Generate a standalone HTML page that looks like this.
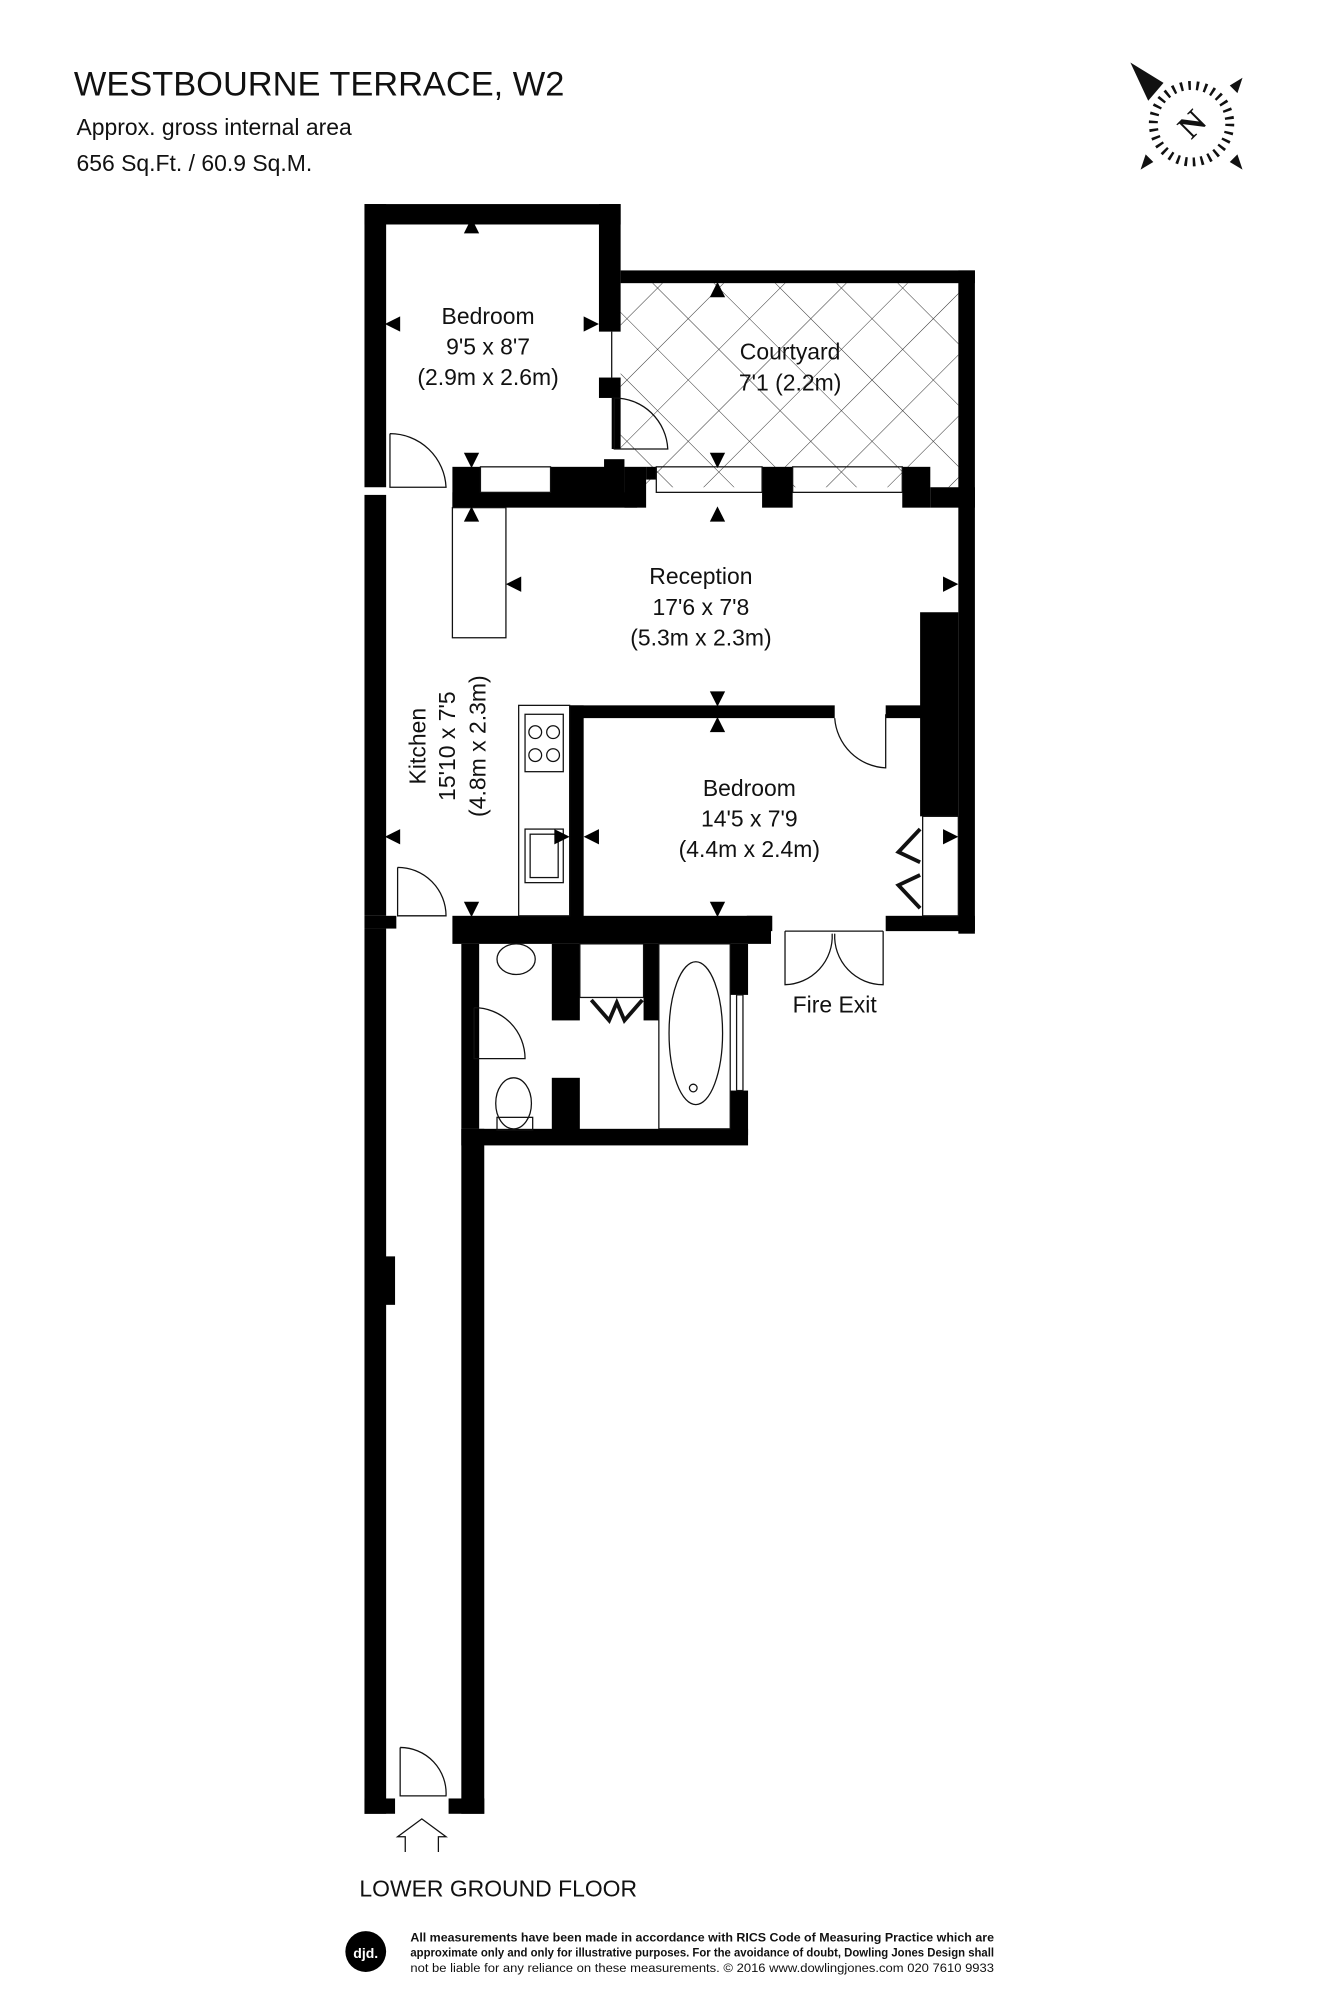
<!DOCTYPE html>
<html><head><meta charset="utf-8"><style>
html,body{margin:0;padding:0;background:#fff;}
svg{display:block;}
text{font-family:"Liberation Sans",sans-serif;fill:#111;}
</style></head><body>
<svg width="1333" height="2000" viewBox="0 0 1046 1568" preserveAspectRatio="none" xmlns="http://www.w3.org/2000/svg">
<defs>
<pattern id="hatch" width="34" height="34" patternUnits="userSpaceOnUse" patternTransform="rotate(45 487 222)">
<path d="M0 0H34M0 0V34" stroke="#333" stroke-width="0.8" fill="none"/>
</pattern>
</defs>
<rect width="1046" height="1568" fill="#fff"/>
<!-- Header -->
<text x="58" y="75" font-size="27">WESTBOURNE TERRACE, W2</text>
<text x="60" y="106" font-size="18">Approx. gross internal area</text>
<text x="60" y="134" font-size="18">656 Sq.Ft. / 60.9 Sq.M.</text>
<!-- Compass -->
<g transform="translate(935,97)">
<circle r="30" fill="none" stroke="#111" stroke-width="7" stroke-dasharray="2 4.3"/>
<polygon points="-48,-48 -22,-32 -34,-18" fill="#111"/>
<polygon points="40,-36 30,-30 36,-24" fill="#111"/>
<polygon points="-40,36 -30,30 -36,24" fill="#111"/>
<polygon points="40,36 30,30 36,24" fill="#111"/>
<text x="0" y="9" font-size="26" font-weight="bold" text-anchor="middle" transform="rotate(-45)" style="font-family:'Liberation Serif',serif">N</text>
</g>
<!-- Courtyard hatch -->
<rect x="487" y="222" width="265" height="160" fill="url(#hatch)"/>
<g fill="#000">
<!-- outer left wall -->
<rect x="286" y="160" width="17" height="222"/>
<rect x="286" y="388" width="17" height="330"/>
<rect x="286" y="728" width="17" height="694"/>
<rect x="298" y="985" width="12" height="38"/>
<!-- bedroom1 -->
<rect x="286" y="160" width="201" height="16"/>
<rect x="470" y="160" width="17" height="100"/>
<rect x="470" y="296" width="17" height="16"/>
<rect x="480" y="312" width="7" height="40"/>
<!-- wall between bedroom1/reception -->
<rect x="355" y="366" width="22" height="32"/>
<rect x="355" y="386" width="145" height="12"/>
<rect x="432" y="366" width="50" height="22"/>
<rect x="474" y="360" width="16" height="28"/>
<rect x="490" y="366" width="17" height="32"/>
<rect x="507" y="366" width="8" height="10"/>
<rect x="598" y="366" width="24" height="32"/>
<rect x="708" y="366" width="22" height="32"/>
<!-- courtyard walls -->
<rect x="487" y="212" width="278" height="10"/>
<rect x="752" y="212" width="13" height="520"/>
<rect x="722" y="480" width="30" height="160"/>
<rect x="730" y="382" width="35" height="16"/>
<!-- bedroom2 -->
<rect x="447" y="553" width="208" height="10"/>
<rect x="695" y="553" width="30" height="10"/>
<rect x="447" y="553" width="11" height="167"/>
<rect x="586" y="718" width="20" height="12"/>
<rect x="695" y="718" width="70" height="12"/>
<!-- horizontal wall below kitchen -->
<rect x="355" y="718" width="250" height="22"/>
<rect x="286" y="718" width="25" height="10"/>
<!-- bathroom -->
<rect x="362" y="740" width="14" height="145"/>
<rect x="362" y="885" width="18" height="537"/>
<rect x="362" y="885" width="225" height="13"/>
<rect x="573" y="740" width="14" height="40"/>
<rect x="573" y="855" width="14" height="35"/>
<rect x="433" y="740" width="22" height="60"/>
<rect x="433" y="845" width="22" height="42"/>
<rect x="505" y="740" width="12" height="60"/>
<!-- entrance bottom -->
<rect x="286" y="1410" width="24" height="12"/>
<rect x="352" y="1410" width="28" height="12"/>
</g>
<!-- thin details -->
<g fill="none" stroke="#111" stroke-width="1">
<line x1="480" y1="260" x2="480" y2="296"/>
<rect x="377" y="366" width="55" height="20"/>
<rect x="515" y="366" width="83" height="20"/>
<rect x="622" y="366" width="86" height="20"/>
<rect x="355" y="398" width="42" height="102"/>
<rect x="407" y="553" width="40" height="165"/>
<rect x="412" y="560" width="30" height="45"/>
<circle cx="420" cy="574" r="5"/><circle cx="434" cy="574" r="5"/>
<circle cx="420" cy="592" r="5"/><circle cx="434" cy="592" r="5"/>
<rect x="412" y="650" width="30" height="42"/>
<rect x="416" y="654" width="22" height="34"/>
<path d="M306 340 V382 H350 A44 44 0 0 0 306 340"/>
<path d="M482 312 V352 H524 A42 42 0 0 0 482 312"/>
<path d="M312 680 V718 H350 A38 38 0 0 0 312 680"/>
<path d="M695 560 V602 A42 42 0 0 1 655 563"/>
<path d="M314 1370 V1408 H350 A36 36 0 0 0 314 1370"/>
<path d="M372 790 V830 H412 A40 40 0 0 0 372 790"/>
<path d="M616 730 V772 A38 38 0 0 0 653 732 M693 730 V772 A38 38 0 0 1 655 732"/>
<line x1="616" y1="730" x2="693" y2="730"/>
<rect x="517" y="740" width="56" height="145"/>
<ellipse cx="546" cy="810" rx="21" ry="56"/>
<circle cx="544" cy="853" r="3"/>
<rect x="578" y="780" width="5" height="75"/>
<rect x="455" y="740" width="50" height="42"/>
<ellipse cx="405" cy="752" rx="15" ry="12"/>
<ellipse cx="403" cy="865" rx="14" ry="20"/>
<rect x="390" y="876" width="28" height="10"/>
<rect x="724" y="640" width="28" height="78"/>
<path d="M318 1452 V1440 H312 L331 1426 L350 1440 H344 V1452"/>
</g>
<g stroke="#111" stroke-width="3" fill="none">
<path d="M464 784 L478 800 L484 786 L490 800 L504 784"/>
<path d="M722 650 L705 668 L722 676 M722 686 L705 694 L722 712"/>
</g>
<!-- arrows -->
<g fill="#000">
<polygon points="370,171 364,183 376,183"/>
<polygon points="370,367 364,355 376,355"/>
<polygon points="302,254 314,248 314,260"/>
<polygon points="470,254 458,248 458,260"/>
<polygon points="563,221 557,233 569,233"/>
<polygon points="563,367 557,355 569,355"/>
<polygon points="370,397 364,409 376,409"/>
<polygon points="563,397 557,409 569,409"/>
<polygon points="397,458 409,452 409,464"/>
<polygon points="752,458 740,452 740,464"/>
<polygon points="563,554 557,542 569,542"/>
<polygon points="563,562 557,574 569,574"/>
<polygon points="302,656 314,650 314,662"/>
<polygon points="447,656 435,650 435,662"/>
<polygon points="458,656 470,650 470,662"/>
<polygon points="752,656 740,650 740,662"/>
<polygon points="370,719 364,707 376,707"/>
<polygon points="563,719 557,707 569,707"/>
</g>
<!-- labels -->
<g font-size="18" text-anchor="middle">
<text x="383" y="254">Bedroom</text>
<text x="383" y="278">9'5 x 8'7</text>
<text x="383" y="302">(2.9m x 2.6m)</text>
<text x="620" y="282">Courtyard</text>
<text x="620" y="306">7'1 (2.2m)</text>
<text x="550" y="458">Reception</text>
<text x="550" y="482">17'6 x 7'8</text>
<text x="550" y="506">(5.3m x 2.3m)</text>
<text x="588" y="624">Bedroom</text>
<text x="588" y="648">14'5 x 7'9</text>
<text x="588" y="672">(4.4m x 2.4m)</text>
<text x="655" y="794">Fire Exit</text>
<g transform="translate(334,585) rotate(-90)"><text x="0" y="0">Kitchen</text></g>
<g transform="translate(357,585) rotate(-90)"><text x="0" y="0">15'10 x 7'5</text></g>
<g transform="translate(381,585) rotate(-90)"><text x="0" y="0">(4.8m x 2.3m)</text></g>
</g>
<text x="282" y="1487" font-size="18">LOWER GROUND FLOOR</text>
<!-- footer -->
<circle cx="287" cy="1530" r="16" fill="#000"/>
<text x="287" y="1535" font-size="11" font-weight="bold" text-anchor="middle" style="fill:#fff">djd.</text>
<g font-size="9.2">
<text x="322" y="1522" font-weight="bold" textLength="458" lengthAdjust="spacingAndGlyphs">All measurements have been made in accordance with RICS Code of Measuring Practice which are</text>
<text x="322" y="1534" font-weight="bold" textLength="458" lengthAdjust="spacingAndGlyphs">approximate only and only for illustrative purposes. For the avoidance of doubt, Dowling Jones Design shall</text>
<text x="322" y="1546" textLength="458" lengthAdjust="spacingAndGlyphs">not be liable for any reliance on these measurements. © 2016 www.dowlingjones.com 020 7610 9933</text>
</g>
</svg>
</body></html>
